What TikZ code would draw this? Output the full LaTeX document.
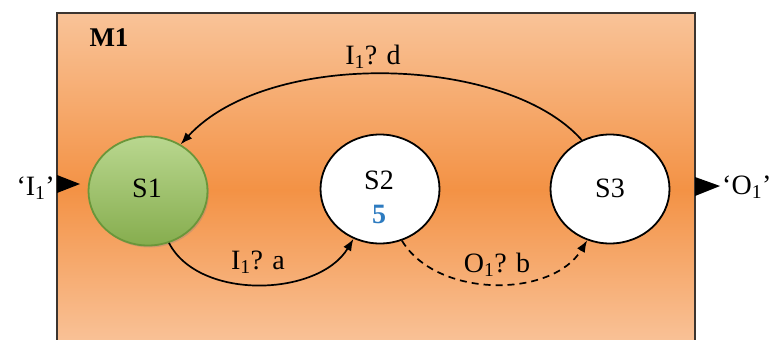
\documentclass[tikz,border=0pt]{standalone}
\usepackage{fontspec}
\setmainfont{Liberation Serif}
\usetikzlibrary{shapes.geometric,arrows.meta,shadows}
\definecolor{boxtop}{HTML}{F9C398}
\definecolor{boxmid}{HTML}{F39245}
\definecolor{boxbot}{HTML}{F9C196}
\definecolor{boxline}{HTML}{3C3530}
\definecolor{gtop}{HTML}{B9D78F}
\definecolor{gbot}{HTML}{86AD4E}
\definecolor{gline}{HTML}{6A963A}
\definecolor{fiveblue}{HTML}{2D7BC0}
\tikzset{
  state/.style={ellipse, draw=black, line width=1.8pt, minimum width=119pt, minimum height=109pt, inner sep=0pt, fill=white},
  lbl/.style={font=\fontsize{28}{33}\selectfont, inner sep=0pt},
  trans/.style={line width=1.7pt, -{Latex[length=12pt,width=9pt]}},
}
\begin{document}
\begin{tikzpicture}[x=1pt,y=-1pt]
\useasboundingbox (0,0) rectangle (774,340);
\shade[top color=boxtop, bottom color=boxmid] (57,13) rectangle (695,190);
\shade[top color=boxmid, bottom color=boxbot] (57,189.5) rectangle (695,340);
\draw[boxline, line width=1.6pt] (57,340) -- (57,13) -- (695,13) -- (695,340);
\node[font=\bfseries\fontsize{27}{30}\selectfont, inner sep=0pt] (M1) at (109,38) {M1};
% ports
\fill (57,175) -- (80,184) -- (57,193) -- cycle;
\fill (695,177) -- (720,186) -- (695,196) -- cycle;
\node[lbl, anchor=east] (in) at (55,188) {‘I\textsubscript{1}’};
\node[lbl, anchor=west] (out) at (722,187) {‘O\textsubscript{1}’};
% states
\node[state, draw=gline, top color=gtop, bottom color=gbot,
      drop shadow={shadow xshift=1.5pt, shadow yshift=-2pt, opacity=0.3}] (S1) at (148,191) {};
\node[state] (S2) at (380,189) {};
\node[state] (S3) at (610,189) {};
\node[lbl] (S1t) at (147,188) {S1};
\node[lbl] (S2t) at (379,180) {S2};
\node[lbl, font=\bfseries\fontsize{28}{33}\selectfont, text=fiveblue] (S2n) at (379,214) {5};
\node[lbl] (S3t) at (610,188) {S3};
% transitions
\draw[trans] (S3.120) .. controls +(-75,-85) and +(88,-96) .. (S1.55);
\draw[trans] (S1.-68) .. controls +(30,58) and +(-35,58) .. (S2.-118);
\draw[trans, dash pattern=on 7pt off 5pt] (S2.-67) .. controls +(35,58) and +(-35,58) .. (S3.-114);
\node[lbl] (ld) at (373,57) {I\textsubscript{1}? d};
\node[lbl] (la) at (258,262) {I\textsubscript{1}? a};
\node[lbl] (lb) at (497,265) {O\textsubscript{1}? b};
\end{tikzpicture}
\end{document}
